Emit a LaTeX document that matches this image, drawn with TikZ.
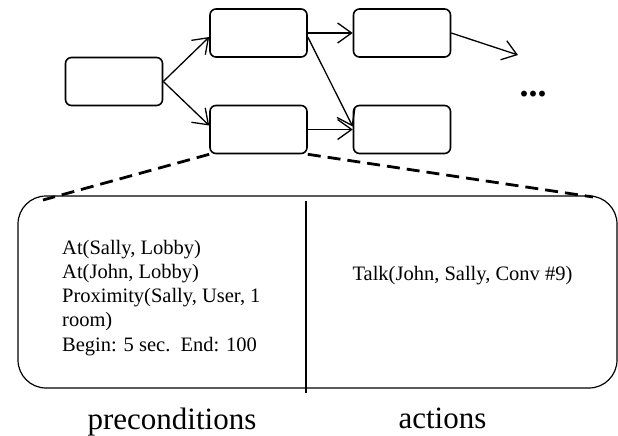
\documentclass[tikz,border=0pt]{standalone}
\usepackage{fontspec}
\setmainfont{Liberation Serif}
\usetikzlibrary{arrows.meta}
\tikzset{>={Straight Barb[length=14pt,width=20pt]}}
\tikzset{
  state/.style={draw, line width=1.6pt, rounded corners=6pt, minimum width=97pt, minimum height=48pt, inner sep=0pt},
  link/.style={->, line width=1.3pt},
  zoomline/.style={line width=2.8pt, dash pattern=on 13pt off 7pt},
}

\begin{document}
\begin{tikzpicture}[x=1pt, y=-1pt]
  \useasboundingbox (0,0) rectangle (618,436);
  % plan states
  \node[state] (s0) at (114,81.5) {};
  \node[state] (s1) at (258.5,33) {};
  \node[state] (s2) at (258.5,129.5) {};
  \node[state] (s3) at (402,33) {};
  \node[state] (s4) at (402,129.5) {};
  \coordinate (next) at (518,55);
  \node[anchor=base, inner sep=0pt] (dots) at (533,96) {\fontsize{36}{36}\selectfont\textbf{...}};
  % links
  \draw[link] (s0.east) -- ([yshift=-4pt]s1.west);
  \draw[link] (s0.east) -- ([yshift=4pt]s2.west);
  \draw[link] (s1.east) -- (s3.west);
  \draw[link] ([yshift=-4pt]s1.east) -- ([yshift=3pt]s4.west);
  \draw[link] (s2.east) -- (s4.west);
  \draw[link] (s3.east) -- (next);
  % expanded state
  \node[draw, line width=1.2pt, rounded corners=28pt, minimum width=599pt, minimum height=192pt, inner sep=0pt] (panel) at (317.5,292) {};
  \coordinate (zl) at (43,200);
  \coordinate (zr) at (593,197);
  \draw[zoomline] (s2.south west) -- (zl);
  \draw[zoomline] (s2.south east) -- (zr);
  \draw[line width=1.2pt] (306,201) -- (306,393);
  % contents
  \node[anchor=base west, align=left, inner sep=0pt, font=\fontsize{20.5}{24.25}\selectfont] (pre) at (62,351)
    {At(Sally, Lobby)\\At(John, Lobby)\\Proximity(Sally, User, 1\\room)\\Begin: 5 sec.\ \ End: 100};
  \node[anchor=base, inner sep=0pt, font=\fontsize{20.5}{24.25}\selectfont] (act) at (462.5,280) {Talk(John, Sally, Conv \#9)};
  \node[anchor=base, inner sep=0pt, font=\fontsize{31}{31}\selectfont] (prelabel) at (172,429) {preconditions};
  \node[anchor=base, inner sep=0pt, font=\fontsize{31}{31}\selectfont] (actlabel) at (442.5,428) {actions};
\end{tikzpicture}
\end{document}
